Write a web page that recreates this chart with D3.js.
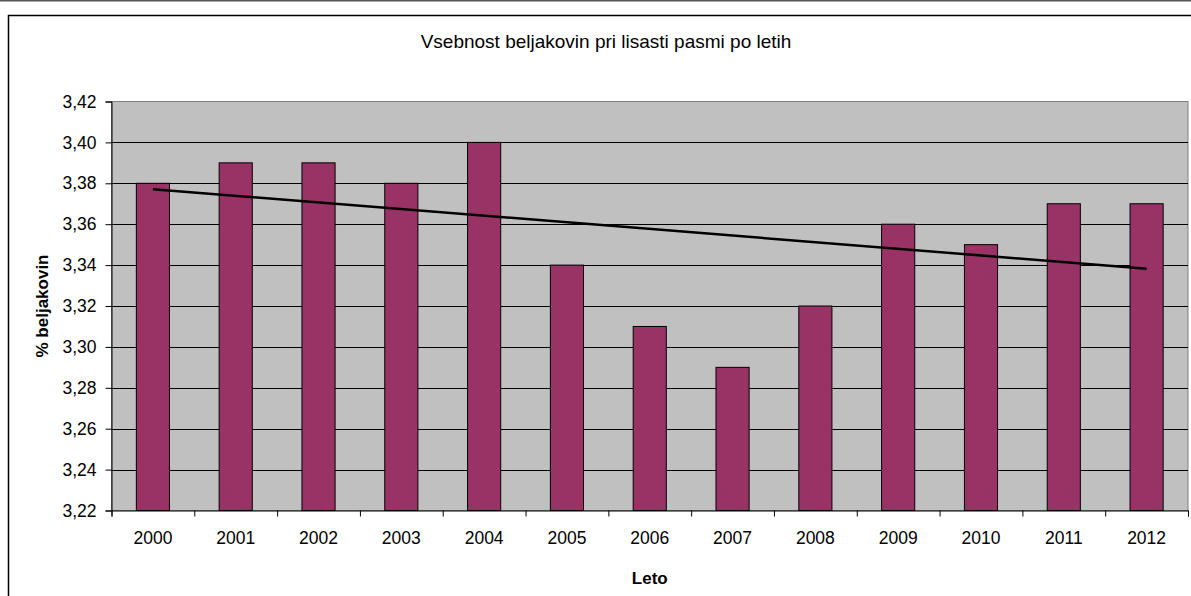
<!DOCTYPE html>
<html>
<head>
<meta charset="utf-8">
<script src="https://cdn.jsdelivr.net/npm/d3@7"></script>
<style>
  body { margin: 0; background: #fff; }
  svg { display: block; font-family: "Liberation Sans", Arial, sans-serif; }
</style>
</head>
<body>
<svg id="chart" width="1191" height="596"></svg>
<script>
var years = ["2000", "2001", "2002", "2003", "2004", "2005", "2006", "2007", "2008", "2009", "2010", "2011", "2012"];
var protein = [3.38, 3.39, 3.39, 3.38, 3.40, 3.34, 3.31, 3.29, 3.32, 3.36, 3.35, 3.37, 3.37];
var yTicks = [3.22, 3.24, 3.26, 3.28, 3.30, 3.32, 3.34, 3.36, 3.38, 3.40, 3.42];

var svg = d3.select("svg#chart");
var plot = { left: 111.5, right: 1188, top: 101.5, bottom: 510.5 };

var sl = d3.formatLocale({ decimal: ",", thousands: ".", grouping: [3], currency: ["", ""] });
var fmt = sl.format(".2f");

var x = d3.scaleBand()
    .domain(years)
    .range([plot.left, plot.right])
    .paddingInner(0.6)
    .paddingOuter(0.3);

// category boundaries for tick marks
var xEdge = d3.scaleLinear()
    .domain([0, years.length])
    .range([plot.left, plot.right]);

var y = d3.scaleLinear()
    .domain([3.22, 3.42])
    .range([plot.bottom, plot.top]);

// outer frame
svg.append("line")
    .attr("x1", 0).attr("x2", 1191).attr("y1", 0.5).attr("y2", 0.5)
    .attr("stroke", "#555").attr("stroke-width", 2);
svg.append("rect")
    .attr("x", 8.5).attr("y", 15.5)
    .attr("width", 1200).attr("height", 600)
    .attr("fill", "#fff")
    .attr("stroke", "#000").attr("stroke-width", 1.5);

svg.append("text")
    .attr("x", 606).attr("y", 48)
    .attr("text-anchor", "middle")
    .style("font-size", "19px")
    .text("Vsebnost beljakovin pri lisasti pasmi po letih");

// plot area
svg.append("rect")
    .attr("x", plot.left).attr("y", plot.top)
    .attr("width", plot.right - plot.left)
    .attr("height", plot.bottom - plot.top)
    .attr("fill", "#c0c0c0")
    .attr("stroke", "#808080");

svg.append("g")
    .selectAll("line")
    .data(yTicks.slice(1, -1))
    .enter()
    .append("line")
    .attr("x1", plot.left).attr("x2", plot.right)
    .attr("y1", d => Math.round(y(d)) + 0.5)
    .attr("y2", d => Math.round(y(d)) + 0.5)
    .attr("stroke", "#000");

svg.append("g")
    .selectAll("rect")
    .data(protein)
    .enter()
    .append("rect")
    .attr("x", (d, i) => x(years[i]))
    .attr("y", d => y(d))
    .attr("width", x.bandwidth())
    .attr("height", d => plot.bottom - y(d))
    .attr("fill", "#993366")
    .attr("stroke", "#000")
    .attr("stroke-width", 1);

// linear trend line
var n = protein.length;
var mx = d3.mean(d3.range(n));
var my = d3.mean(protein);
var slope = d3.sum(protein, (d, i) => (i - mx) * (d - my)) / d3.sum(d3.range(n), i => (i - mx) * (i - mx));
var icpt = my - slope * mx;
var trend = [0, n - 1].map(i => [x(years[i]) + x.bandwidth() / 2, y(icpt + slope * i)]);

svg.append("path")
    .attr("d", d3.line()(trend))
    .attr("fill", "none")
    .attr("stroke", "#000")
    .attr("stroke-width", 2.5);

// axes
var yAxis = svg.append("g")
    .attr("transform", "translate(" + plot.left + ",0)")
    .call(d3.axisLeft(y).tickValues(yTicks).tickSize(6).tickPadding(9).tickFormat(fmt));

var xTicks = svg.append("g")
    .attr("transform", "translate(0," + plot.bottom + ")")
    .call(d3.axisBottom(xEdge).tickValues(d3.range(n + 1)).tickSize(6).tickFormat(""));

var xAxis = svg.append("g")
    .attr("transform", "translate(0," + plot.bottom + ")")
    .call(d3.axisBottom(x).tickSize(0).tickPadding(21));
xAxis.select(".domain").remove();

svg.selectAll(".tick text")
    .attr("fill", "#000")
    .style("font-size", "17.5px")
    .style("font-family", "'Liberation Sans', Arial, sans-serif");
svg.selectAll(".tick line, .domain").attr("stroke", "#000");

svg.append("text")
    .attr("x", (plot.left + plot.right) / 2).attr("y", 584)
    .attr("text-anchor", "middle")
    .style("font-size", "17px")
    .style("font-weight", "bold")
    .text("Leto");

svg.append("text")
    .attr("transform", "translate(48," + (plot.top + plot.bottom) / 2 + ")rotate(-90)")
    .attr("text-anchor", "middle")
    .style("font-size", "17px")
    .style("font-weight", "bold")
    .text("% beljakovin");
</script>
</body>
</html>
